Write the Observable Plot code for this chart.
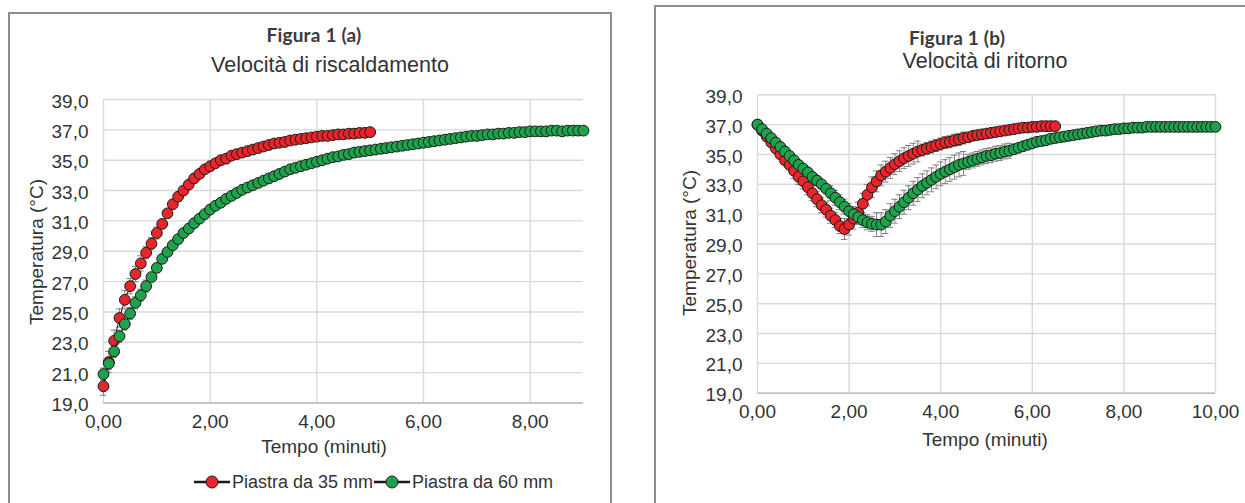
<!DOCTYPE html>
<html><head><meta charset="utf-8">
<script src="https://cdn.jsdelivr.net/npm/d3@7"></script>
<script src="https://cdn.jsdelivr.net/npm/@observablehq/plot@0.6"></script>
<style>
body{margin:0;width:1245px;height:503px;overflow:hidden;background:#fff;font-family:"Liberation Sans",Arial,sans-serif;color:#333;position:relative;}
.panel{position:absolute;border:2px solid #8f8f8f;box-sizing:border-box;}
.abs{position:absolute;white-space:nowrap;line-height:1;}
.ctr{transform:translate(-50%,-50%);}
.fig{font-family:Lato,"Noto Sans",sans-serif;font-size:19px;font-weight:700;color:#3a3a3a;letter-spacing:0.2px;}
.sub{font-size:21.5px;color:#333;}
.xl{font-size:19px;color:#333;}
.yl{font-size:19px;color:#333;transform:translate(-50%,-50%) rotate(-90deg);}
.leg{font-size:18px;color:#333;display:flex;align-items:center;}
.plot{position:absolute;}
</style></head><body>
<div class="panel" style="left:8px;top:12px;width:604px;height:520px"></div>
<div class="panel" style="left:654px;top:5px;width:610px;height:520px"></div>

<div class="abs ctr fig" style="left:314px;top:34px">Figura 1 (a)</div>
<div class="abs ctr sub" style="left:330px;top:66px">Velocità di riscaldamento</div>
<div class="abs ctr xl" style="left:324px;top:446px">Tempo (minuti)</div>
<div class="abs yl" style="left:36px;top:252px">Temperatura (°C)</div>
<div class="abs leg" id="legend" style="left:193px;top:472px"></div>

<div class="abs ctr fig" style="left:957px;top:37px">Figura 1 (b)</div>
<div class="abs ctr sub" style="left:985px;top:62px">Velocità di ritorno</div>
<div class="abs ctr xl" style="left:985px;top:439px">Tempo (minuti)</div>
<div class="abs yl" style="left:689px;top:243px">Temperatura (°C)</div>

<div class="plot" id="left" style="left:10px;top:80px"></div>
<div class="plot" id="right" style="left:660px;top:75px"></div>

<script>
// sampling step (minutes)
const dt = 0.1;
const seriesNames = ["Piastra da 35 mm", "Piastra da 60 mm"];
const seriesColors = ["#e8252b", "#1ea24b"];
const yTicks = [19, 21, 23, 25, 27, 29, 31, 33, 35, 37, 39];
const xTicksA = [0, 2, 4, 6, 8];
const xTicksB = [0, 2, 4, 6, 8, 10];

// Figura 1 (a) – heating, 35 mm plate (t = 0 .. 5.0 min)
const heat35 = [20.1,21.7,23.1,24.6,25.8,26.7,27.5,28.2,28.9,29.5,
  30.2,30.8,31.5,32.1,32.6,33.0,33.4,33.8,34.1,34.4,
  34.6,34.8,35.0,35.1,35.3,35.4,35.5,35.6,35.7,35.8,
  35.9,36.0,36.1,36.15,36.2,36.3,36.35,36.4,36.45,36.5,
  36.55,36.6,36.6,36.65,36.7,36.7,36.75,36.75,36.8,36.8,
  36.85];
const heat35Err = [0.6,0.7,0.7,0.6,0.6,0.5,0.5,0.5,0.4,0.4,
  0.4,0.2,0.2,0.2,0.2,0.2,0.2,0.2,0.2,0.2,
  0.2,0.2,0.2,0.2,0.2,0.2,0.2,0.2,0.2,0.2,
  0.2,0.2,0.2,0.2,0.2,0.2,0.2,0.2,0.2,0.2,
  0.2,0.2,0.2,0.2,0.2,0.2,0.2,0.2,0.2,0.2,
  0.2];
// Figura 1 (a) – heating, 60 mm plate (t = 0 .. 9.0 min)
const heat60 = [20.9,21.6,22.4,23.4,24.2,24.9,25.6,26.1,26.7,27.3,
  27.9,28.5,28.95,29.4,29.8,30.2,30.5,30.85,31.15,31.45,
  31.75,32.0,32.2,32.45,32.65,32.85,33.05,33.2,33.35,33.5,
  33.65,33.8,33.95,34.1,34.25,34.4,34.5,34.6,34.7,34.8,
  34.9,35.0,35.1,35.2,35.25,35.35,35.4,35.5,35.55,35.6,
  35.65,35.7,35.75,35.8,35.85,35.9,35.95,36.0,36.05,36.1,
  36.15,36.2,36.25,36.3,36.35,36.4,36.45,36.5,36.55,36.6,
  36.6,36.65,36.7,36.7,36.75,36.75,36.8,36.8,36.85,36.85,
  36.9,36.9,36.9,36.9,36.95,36.95,36.9,36.95,36.95,36.95,
  36.95];
const heat60Err = [0.4,0.4,0.4,0.4,0.4,0.4,0.4,0.4,0.4,0.15,
  0.15,0.15,0.15,0.15,0.15,0.15,0.15,0.15,0.15,0.15,
  0.15,0.15,0.15,0.15,0.15,0.15,0.15,0.15,0.15,0.15,
  0.15,0.15,0.15,0.15,0.15,0.15,0.15,0.15,0.15,0.15,
  0.15,0.15,0.15,0.15,0.15,0.15,0.15,0.15,0.15,0.15,
  0.15,0.15,0.15,0.15,0.15,0.15,0.15,0.15,0.15,0.15,
  0.15,0.15,0.15,0.15,0.15,0.15,0.15,0.15,0.15,0.15,
  0.15,0.15,0.15,0.15,0.15,0.15,0.15,0.15,0.15,0.15,
  0.15,0.15,0.15,0.15,0.15,0.15,0.15,0.15,0.15,0.15,
  0.15];

// Figura 1 (b) – return, 35 mm plate (t = 0 .. 6.5 min)
const ret35 = [37.0,36.6,36.2,35.8,35.4,35.0,34.6,34.3,33.9,33.5,
  33.2,32.8,32.4,32.0,31.6,31.3,30.9,30.6,30.2,30.0,
  30.3,30.7,31.1,31.7,32.3,32.8,33.2,33.6,33.85,34.1,
  34.35,34.55,34.75,34.9,35.05,35.2,35.3,35.4,35.5,35.6,
  35.7,35.8,35.85,35.95,36.0,36.1,36.15,36.25,36.3,36.35,
  36.4,36.45,36.5,36.55,36.6,36.65,36.7,36.75,36.8,36.8,
  36.85,36.85,36.9,36.9,36.9,36.9];
const ret35Err = [0.2,0.2,0.2,0.2,0.2,0.2,0.2,0.2,0.5,0.5,
  0.5,0.5,0.5,0.5,0.5,0.5,0.5,0.5,0.5,0.7,
  0.7,0.7,0.7,0.7,0.7,0.7,0.7,0.7,0.7,0.7,
  0.7,0.7,0.7,0.7,0.7,0.7,0.4,0.4,0.4,0.4,
  0.4,0.4,0.4,0.4,0.4,0.4,0.2,0.2,0.2,0.2,
  0.2,0.2,0.2,0.2,0.2,0.2,0.2,0.2,0.2,0.2,
  0.2,0.2,0.2,0.2,0.2,0.2];
// Figura 1 (b) – return, 60 mm plate (t = 0 .. 10.0 min)
const ret60 = [37.0,36.7,36.4,36.1,35.8,35.5,35.2,34.9,34.6,34.3,
  34.05,33.8,33.5,33.25,33.0,32.7,32.4,32.1,31.8,31.5,
  31.2,31.0,30.8,30.6,30.45,30.35,30.3,30.3,30.5,30.9,
  31.2,31.5,31.8,32.1,32.4,32.65,32.9,33.1,33.3,33.5,
  33.7,33.85,34.0,34.15,34.3,34.4,34.5,34.6,34.7,34.8,
  34.9,34.95,35.05,35.1,35.2,35.25,35.35,35.45,35.55,35.65,
  35.75,35.85,35.9,35.95,36.05,36.1,36.15,36.2,36.25,36.3,
  36.35,36.4,36.45,36.5,36.55,36.6,36.6,36.65,36.7,36.7,
  36.75,36.75,36.8,36.8,36.8,36.85,36.85,36.85,36.85,36.85,
  36.85,36.85,36.85,36.85,36.85,36.85,36.85,36.85,36.85,36.85,
  36.85];
const ret60Err = [0.2,0.2,0.2,0.2,0.2,0.2,0.2,0.2,0.2,0.2,
  0.2,0.2,0.2,0.2,0.2,0.2,0.5,0.5,0.5,0.5,
  0.5,0.5,0.5,0.5,0.5,0.5,0.8,0.8,0.8,0.8,
  0.8,0.8,0.8,0.8,0.8,0.8,0.8,0.8,0.8,0.8,
  0.8,0.8,0.8,0.8,0.8,0.8,0.5,0.5,0.5,0.5,
  0.5,0.5,0.5,0.5,0.5,0.5,0.2,0.2,0.2,0.2,
  0.2,0.2,0.2,0.2,0.2,0.2,0.2,0.2,0.2,0.2,
  0.2,0.2,0.2,0.2,0.2,0.2,0.2,0.2,0.2,0.2,
  0.2,0.2,0.2,0.2,0.2,0.2,0.2,0.2,0.2,0.2,
  0.2,0.2,0.2,0.2,0.2,0.2,0.2,0.2,0.2,0.2,
  0.2];

const rows = (vals, errs, k) => vals.map((v, i) => ({t: +(i * dt).toFixed(2), T: v, e: errs[i], k}));
const fmt1 = d => d.toFixed(1).replace(".", ",");
const fmt2 = d => d.toFixed(2).replace(".", ",");

function chart({data, xDomain, xTicks, width, height, margin, cap}) {
  const marks = [
    Plot.gridY(yTicks, {stroke: "#d9d9d9", strokeOpacity: 1, strokeWidth: 1.4}),
    Plot.gridX(xTicks, {stroke: "#d9d9d9", strokeOpacity: 1, strokeWidth: 1.4}),
    Plot.ruleY([yTicks[0]], {stroke: "#bdbdbd", strokeWidth: 1.6}),
    Plot.axisY(yTicks, {tickSize: 0, tickPadding: 15, tickFormat: fmt1, fontSize: 19, dy: 2, fill: "#333", label: null}),
    Plot.axisX(xTicks, {tickSize: 0, tickPadding: 11, tickFormat: fmt2, fontSize: 19, label: null, fill: "#333"})
  ];
  for (const d of data) {
    marks.push(
      Plot.ruleX(d, {x: "t", y1: r => r.T - r.e, y2: r => r.T + r.e, stroke: "#808080", strokeWidth: 1}),
      Plot.ruleY(d, {y: r => r.T - r.e, x1: r => r.t - cap, x2: r => r.t + cap, stroke: "#808080", strokeWidth: 1}),
      Plot.ruleY(d, {y: r => r.T + r.e, x1: r => r.t - cap, x2: r => r.t + cap, stroke: "#808080", strokeWidth: 1})
    );
  }
  data.forEach((d, i) => {
    marks.push(
      Plot.line(d, {x: "t", y: "T", stroke: "#1a1a1a", strokeWidth: 1}),
      Plot.dot(d, {x: "t", y: "T", r: 5.4, fill: seriesColors[i], stroke: "#1a1a1a", strokeWidth: 1})
    );
  });
  return Plot.plot({
    width, height, ...margin,
    style: {fontFamily: "'Liberation Sans', Arial, sans-serif", color: "#333", background: "transparent", overflow: "visible"},
    x: {domain: xDomain, axis: null, label: null},
    y: {domain: [19, 39], axis: null, label: null},
    marks
  });
}

document.getElementById("left").append(chart({
  data: [rows(heat35, heat35Err, seriesNames[0]), rows(heat60, heat60Err, seriesNames[1])],
  xDomain: [0, 9], xTicks: xTicksA, width: 598, height: 385, cap: 0.06,
  margin: {marginLeft: 93, marginRight: 25, marginTop: 19, marginBottom: 62.5}
}));
document.getElementById("right").append(chart({
  data: [rows(ret35, ret35Err, seriesNames[0]), rows(ret60, ret60Err, seriesNames[1])],
  xDomain: [0, 10], xTicks: xTicksB, width: 580, height: 380, cap: 0.07,
  margin: {marginLeft: 97, marginRight: 25, marginTop: 19.3, marginBottom: 62.3}
}));

// legend
const leg = document.getElementById("legend");
seriesNames.forEach((n, i) => {
  const sw = document.createElementNS("http://www.w3.org/2000/svg", "svg");
  sw.setAttribute("width", 38); sw.setAttribute("height", 20);
  sw.innerHTML = `<line x1="1" y1="10" x2="37" y2="10" stroke="#1a1a1a" stroke-width="2.5"/><circle cx="19" cy="10" r="6" fill="${seriesColors[i]}" stroke="#1a1a1a" stroke-width="1"/>`;
  const tx = document.createElement("span");
  tx.textContent = n;
  tx.style.marginLeft = "1px";
  leg.append(sw, tx);
});
</script>
</body></html>
